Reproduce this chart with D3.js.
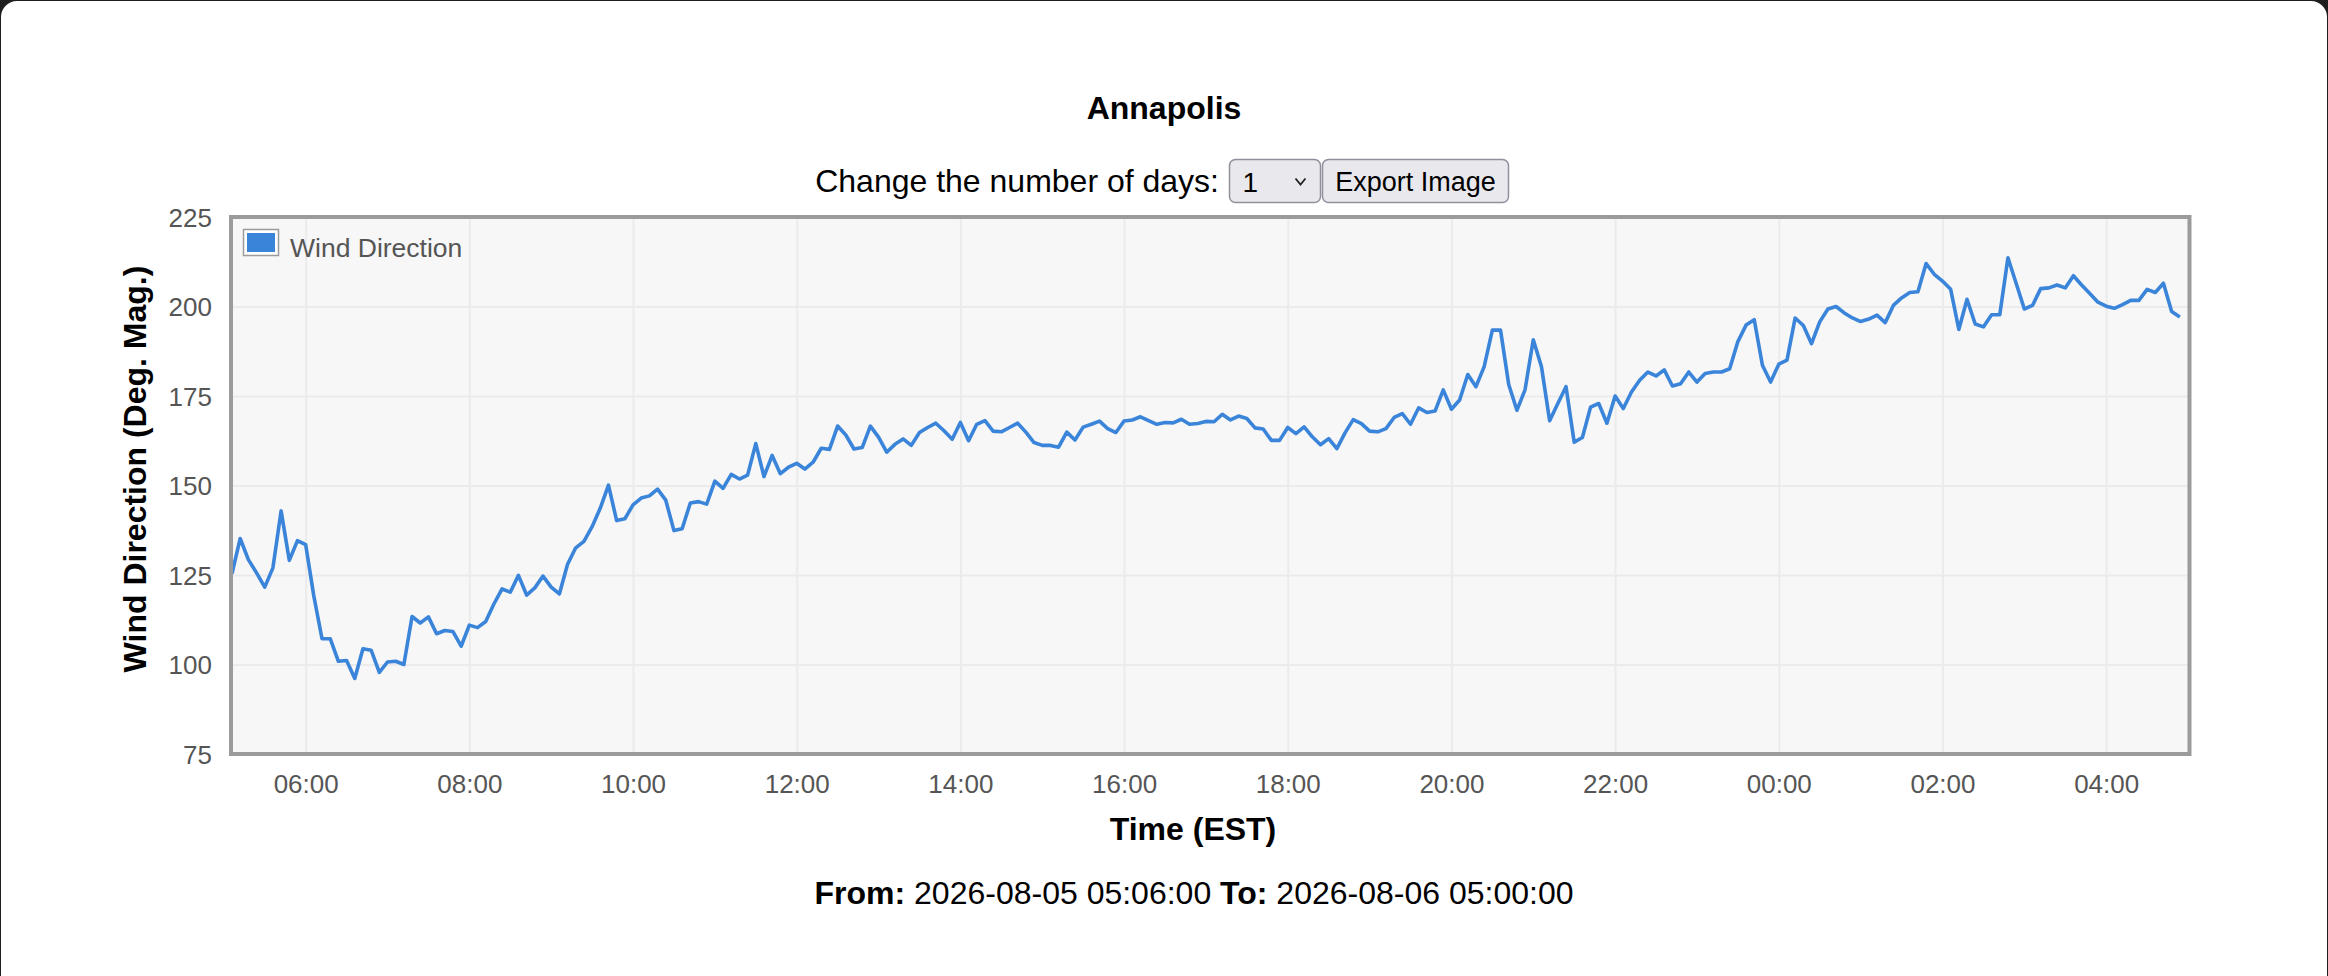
<!DOCTYPE html>
<html>
<head>
<meta charset="utf-8">
<script src="https://cdn.jsdelivr.net/npm/d3@7"></script>
<style>
  html, body { margin: 0; padding: 0; background: #1e1e1e; }
  svg { display: block; font-family: "Liberation Sans", Arial, Helvetica, sans-serif; }
</style>
</head>
<body>
<div id="chart"></div>
<script>
// station / period
const stationName = "Annapolis";
const seriesName = "Wind Direction";
const fromLabel = "2026-08-05 05:06:00";
const toLabel = "2026-08-06 05:00:00";
const sampleMinutes = 6;   // one reading every 6 minutes, starting at fromLabel
const yTicks = [75, 100, 125, 150, 175, 200, 225];

// wind direction readings (deg. mag.)
const windDir = [
  125.4, 135.2, 129.3, 125.6, 121.6, 127.0, 142.9, 129.1, 134.6, 133.5,
  119.1, 107.2, 107.2, 100.9, 101.1, 96.1, 104.4, 104.0, 97.8, 100.7,
  100.9, 100.0, 113.4, 111.6, 113.3, 108.6, 109.5, 109.2, 105.1, 111.0,
  110.3, 112.0, 116.9, 121.1, 120.2, 124.9, 119.4, 121.4, 124.7, 121.6,
  119.7, 128.0, 132.6, 134.4, 138.5, 143.7, 150.1, 140.2, 140.7, 144.6,
  146.5, 147.1, 149.0, 145.9, 137.4, 137.9, 145.1, 145.5, 144.8, 151.2,
  149.2, 153.1, 151.8, 152.9, 161.7, 152.5, 158.4, 153.3, 155.1, 156.2,
  154.6, 156.5, 160.4, 160.1, 166.6, 164.1, 160.2, 160.6, 166.6, 163.5,
  159.3, 161.5, 163.0, 161.2, 164.8, 166.2, 167.4, 165.3, 162.9, 167.6,
  162.5, 167.1, 168.1, 165.2, 165.0, 166.2, 167.4, 164.9, 162.0, 161.2,
  161.2, 160.7, 164.9, 162.7, 166.3, 167.1, 168.0, 165.9, 164.8, 168.0,
  168.3, 169.2, 168.1, 167.1, 167.6, 167.5, 168.5, 167.1, 167.3, 167.9,
  167.8, 169.9, 168.3, 169.4, 168.7, 166.1, 165.8, 162.6, 162.6, 166.2,
  164.5, 166.4, 163.6, 161.4, 163.1, 160.3, 164.7, 168.4, 167.3, 165.2,
  165.0, 165.9, 169.0, 170.1, 167.1, 171.7, 170.4, 170.8, 176.7, 171.3,
  173.9, 181.0, 177.6, 183.2, 193.4, 193.4, 178.2, 171.0, 176.8, 190.7,
  183.2, 168.1, 172.9, 177.6, 162.1, 163.4, 171.9, 172.9, 167.4, 175.0,
  171.5, 176.1, 179.4, 181.7, 180.6, 182.3, 177.8, 178.4, 181.7, 178.9,
  181.3, 181.7, 181.7, 182.6, 190.2, 194.8, 196.3, 183.6, 178.9, 183.9,
  185.0, 196.8, 194.7, 189.6, 195.7, 199.3, 200.0, 198.2, 196.8, 195.8,
  196.5, 197.6, 195.5, 200.3, 202.4, 203.9, 204.1, 212.0, 209.0, 207.1,
  204.8, 193.6, 202.0, 195.1, 194.3, 197.7, 197.7, 213.6, 206.5, 199.3,
  200.3, 205.0, 205.2, 206.0, 205.2, 208.6, 206.0, 203.6, 201.2, 200.1,
  199.5, 200.5, 201.7, 201.7, 204.8, 203.9, 206.5, 198.6, 197.1
];

const W = 2328, H = 976;
const plot = {left: 232, right: 2188, top: 217, bottom: 754};
const lineColor = "#3a84da";
const labelColor = "#555";

const parse = d3.timeParse("%Y-%m-%d %H:%M:%S");
const t0 = parse(fromLabel), t1 = parse(toLabel);
const data = windDir.map((v, i) => ({t: d3.timeMinute.offset(t0, i * sampleMinutes), v: v}));

const svg = d3.select("#chart").append("svg")
    .attr("width", W)
    .attr("height", H);

// page frame
svg.append("rect")
    .attr("x", 1).attr("y", 1)
    .attr("width", W - 2).attr("height", H + 40)
    .attr("rx", 16)
    .attr("fill", "#fff");

// title
svg.append("text")
    .attr("x", 1164).attr("y", 119)
    .attr("text-anchor", "middle")
    .attr("font-size", 32)
    .attr("font-weight", "bold")
    .text(stationName);

// controls row
svg.append("text")
    .attr("x", 1219).attr("y", 192)
    .attr("text-anchor", "end")
    .attr("font-size", 32)
    .text("Change the number of days:");

const sel = svg.append("g").attr("transform", "translate(1229.5,159.5)");
sel.append("rect")
    .attr("width", 91).attr("height", 43).attr("rx", 6)
    .attr("fill", "#e9e9ed").attr("stroke", "#8f8f9d").attr("stroke-width", 1.5);
sel.append("text")
    .attr("x", 13).attr("y", 32)
    .attr("font-size", 28)
    .text("1");
sel.append("path")
    .attr("d", "M66,19 L71,25 L76,19")
    .attr("fill", "none").attr("stroke", "#222").attr("stroke-width", 1.8);

const btn = svg.append("g").attr("transform", "translate(1322.5,159.5)");
btn.append("rect")
    .attr("width", 186).attr("height", 43).attr("rx", 6)
    .attr("fill", "#e9e9ed").attr("stroke", "#8f8f9d").attr("stroke-width", 1.5);
btn.append("text")
    .attr("x", 93).attr("y", 31)
    .attr("text-anchor", "middle")
    .attr("font-size", 27)
    .text("Export Image");

// scales
const x = d3.scaleTime().domain([t0, t1]).range([plot.left, plot.right]);
const y = d3.scaleLinear().domain([75, 225]).range([plot.bottom, plot.top]);

// plot background
svg.append("rect")
    .attr("x", plot.left - 1).attr("y", plot.top)
    .attr("width", plot.right - plot.left + 2).attr("height", plot.bottom - plot.top)
    .attr("fill", "#f7f7f7");

// grid
const hours = d3.timeHour.every(2);
svg.append("g")
    .attr("transform", `translate(0,${plot.bottom})`)
    .call(d3.axisBottom(x).ticks(hours).tickSize(-(plot.bottom - plot.top)).tickFormat(""))
    .call(g => g.select(".domain").remove())
    .call(g => g.selectAll("line").attr("stroke", "#ebebeb").attr("stroke-width", 2));

svg.append("g")
    .attr("transform", `translate(${plot.left},0)`)
    .call(d3.axisLeft(y).tickValues(yTicks).tickSize(-(plot.right - plot.left)).tickFormat(""))
    .call(g => g.select(".domain").remove())
    .call(g => g.selectAll("line").attr("stroke", "#ebebeb").attr("stroke-width", 2));

// line
const line = d3.line().x(d => x(d.t)).y(d => y(d.v));
svg.append("path")
    .datum(data)
    .attr("d", line)
    .attr("fill", "none")
    .attr("stroke", lineColor)
    .attr("stroke-width", 3.6)
    .attr("stroke-linejoin", "round");

// plot border
svg.append("rect")
    .attr("x", plot.left - 1).attr("y", plot.top)
    .attr("width", plot.right - plot.left + 2.5).attr("height", plot.bottom - plot.top)
    .attr("fill", "none")
    .attr("stroke", "#9b9b9b")
    .attr("stroke-width", 4);

// axes labels
svg.append("g")
    .attr("transform", `translate(0,${plot.bottom})`)
    .call(d3.axisBottom(x).ticks(hours).tickFormat(d3.timeFormat("%H:%M")).tickSize(0))
    .call(g => g.select(".domain").remove())
    .call(g => g.selectAll("text")
        .attr("y", 39).attr("dy", null)
        .attr("font-size", 26).attr("fill", labelColor)
        .attr("font-family", "Liberation Sans, Arial, sans-serif"));

svg.append("g")
    .attr("transform", `translate(${plot.left - 1},0)`)
    .call(d3.axisLeft(y).tickValues(yTicks).tickSize(0).tickPadding(19))
    .call(g => g.select(".domain").remove())
    .call(g => g.selectAll("text")
        .attr("dy", "0.36em")
        .attr("font-size", 26).attr("fill", labelColor)
        .attr("font-family", "Liberation Sans, Arial, sans-serif"));

// axis titles
svg.append("text")
    .attr("transform", "translate(146,469) rotate(-90)")
    .attr("text-anchor", "middle")
    .attr("font-size", 32)
    .attr("font-weight", "bold")
    .text("Wind Direction (Deg. Mag.)");

svg.append("text")
    .attr("x", 1193).attr("y", 840)
    .attr("text-anchor", "middle")
    .attr("font-size", 32)
    .attr("font-weight", "bold")
    .text("Time (EST)");

// legend
const legend = svg.append("g").attr("transform", "translate(243.5,229.5)");
legend.append("rect")
    .attr("width", 35).attr("height", 26)
    .attr("fill", "#fff").attr("stroke", "#9b9b9b").attr("stroke-width", 1.5);
legend.append("rect")
    .attr("x", 3.5).attr("y", 3.5).attr("width", 28).attr("height", 19)
    .attr("fill", lineColor);
legend.append("text")
    .attr("x", 46.5).attr("y", 27)
    .attr("font-size", 26.5)
    .attr("fill", labelColor)
    .text(seriesName);

// period footer
const foot = svg.append("text")
    .attr("x", 1194).attr("y", 904)
    .attr("text-anchor", "middle")
    .attr("font-size", 32);
foot.append("tspan").attr("font-weight", "bold").text("From:");
foot.append("tspan").text(" " + fromLabel + " ");
foot.append("tspan").attr("font-weight", "bold").text("To:");
foot.append("tspan").text(" " + toLabel);
</script>
</body>
</html>
